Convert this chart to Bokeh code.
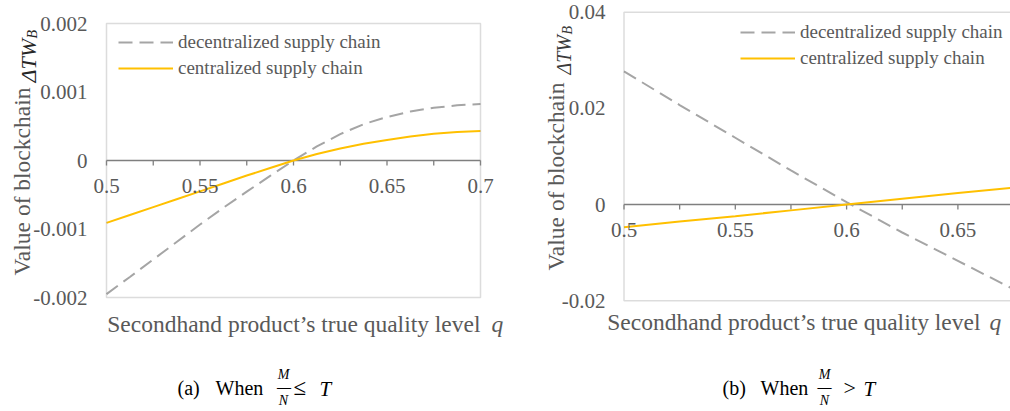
import math
from bokeh.plotting import figure
from bokeh.layouts import row
from bokeh.models import Label, BoxAnnotation, Range1d
from bokeh.embed import file_html
from bokeh.resources import INLINE

# ---------------- data ----------------
q_a = [0.5, 0.5125, 0.525, 0.5375, 0.55, 0.5625, 0.575, 0.5875, 0.6,
       0.6125, 0.625, 0.6375, 0.65, 0.6625, 0.675, 0.6875, 0.7]
dec_a = [-0.00195, -0.00170, -0.001445, -0.00119, -0.000935, -0.00069, -0.000455, -0.000225, 0.0,
         0.000205, 0.000385, 0.00053, 0.000635, 0.000715, 0.00077, 0.000805, 0.000825]
cen_a = [-0.00091, -0.000795, -0.00068, -0.000565, -0.00045, -0.000335, -0.00022, -0.00011, 0.0,
         0.000095, 0.000175, 0.000245, 0.0003, 0.00035, 0.00039, 0.000415, 0.00043]

q_b = [0.5, 0.525, 0.55, 0.575, 0.6, 0.625, 0.65, 0.675]
dec_b = [0.0277, 0.0207, 0.0139, 0.0071, 0.0005, -0.0058, -0.0117, -0.0176]
cen_b = [-0.0047, -0.0035, -0.0024, -0.0012, 0.0, 0.0012, 0.0024, 0.0035]

x_major_a = [0.5, 0.55, 0.6, 0.65, 0.7]
x_minor_a = [0.525, 0.575, 0.625, 0.675]
x_labels_a = ["0.5", "0.55", "0.6", "0.65", "0.7"]
y_ticks_a = [-0.002, -0.001, 0, 0.001, 0.002]
y_labels_a = ["-0.002", "-0.001", "0", "0.001", "0.002"]

x_major_b = [0.5, 0.55, 0.6, 0.65]
x_minor_b = [0.525, 0.575, 0.625, 0.675]
x_labels_b = ["0.5", "0.55", "0.6", "0.65"]
y_ticks_b = [-0.02, 0, 0.02, 0.04]
y_labels_b = ["-0.02", "0", "0.02", "0.04"]

series_names = ["decentralized supply chain", "centralized supply chain"]
x_title = "Secondhand product\u2019s true quality level"
y_title = "Value of blockchain"

FONT = "Liberation Serif"
GREY_TXT = "#595959"
FRAME = "#8a8a8a"
ZERO = "#7f7f7f"
DASH_C = "#A5A5A5"
GOLD = "#FFC000"

H = 411
W_A, W_B = 515, 495


def make_fig(w, xr, yr):
    p = figure(width=w, height=H, x_range=Range1d(*xr), y_range=Range1d(*yr),
               output_backend="svg", toolbar_location=None,
               x_axis_location=None, y_axis_location=None,
               min_border=0, min_border_left=0, min_border_right=0,
               min_border_top=0, min_border_bottom=0)
    p.xgrid.visible = False
    p.ygrid.visible = False
    p.outline_line_color = None
    p.background_fill_color = "white"
    p.border_fill_color = "white"
    return p


def lab(p, text, px, py, size, color=GREY_TXT, style="normal", align="left",
        baseline="middle", angle=0.0, xu="screen", yu="screen"):
    y = py if yu == "data" else H - py
    p.add_layout(Label(x=px, y=y, x_units=xu, y_units=yu, text=text,
                       text_font=FONT, text_font_size=size, text_color=color,
                       text_font_style=style, text_align=align,
                       text_baseline=baseline, angle=angle))


def axes(p, ky, x_major, x_minor, x_labels, y_ticks, y_labels, x_end,
         zero_px, ylab_px):
    tick_len = 5.0 / ky
    ticks = x_major + x_minor
    p.segment(x0=ticks, y0=[0] * len(ticks), x1=ticks, y1=[-tick_len] * len(ticks),
              line_color=ZERO, line_width=1.3)
    p.segment(x0=[x_major[0]], y0=[0], x1=[x_end], y1=[0], line_color=ZERO, line_width=1.5)
    for t, s in zip(x_major, x_labels):
        lab(p, s, t, zero_px + 25, "21px", align="center", xu="data")
    for t, s in zip(y_ticks, y_labels):
        lab(p, s, ylab_px, t, "21px", align="right", yu="data")


def style_legend(p, loc):
    lg = p.legend[0]
    lg.location = loc
    lg.margin = 0
    lg.padding = 0
    lg.spacing = 4
    lg.glyph_width = 55
    lg.glyph_height = 20
    lg.label_height = 20
    lg.label_standoff = 5
    lg.label_text_font = FONT
    lg.label_text_font_size = "19px"
    lg.label_text_color = GREY_TXT
    lg.border_line_color = None
    lg.background_fill_alpha = 0


# ---------------- panel (a) ----------------
# pixel layout of the plotting box: x 106..480, y 23..297
kxA = (480 - 106) / (x_major_a[-1] - x_major_a[0])
kyA = (297 - 23) / (y_ticks_a[-1] - y_ticks_a[0])
xrA = (x_major_a[0] - 106 / kxA, x_major_a[0] + (W_A - 106) / kxA)
yrA = (y_ticks_a[-1] - (H - 23) / kyA, y_ticks_a[-1] + 23 / kyA)
pa = make_fig(W_A, xrA, yrA)
pa.add_layout(BoxAnnotation(left=x_major_a[0], right=x_major_a[-1],
                            bottom=y_ticks_a[0], top=y_ticks_a[-1],
                            fill_alpha=0, line_color=FRAME, line_width=1.5))
axes(pa, kyA, x_major_a, x_minor_a, x_labels_a, y_ticks_a, y_labels_a,
     x_major_a[-1], 160, 87)
pa.line(q_a, dec_a, line_color=DASH_C, line_width=2, line_dash="14 7",
        legend_label=series_names[0])
pa.line(q_a, cen_a, line_color=GOLD, line_width=2, legend_label=series_names[1])
style_legend(pa, (118, 332))
lab(pa, x_title, 480, 323, "23.5px", align="right")
lab(pa, "q", 491, 323, "23.5px", style="italic")
lab(pa, y_title, 21, 275, "23.5px", angle=math.pi / 2)
lab(pa, "\u0394TW", 27.5, 82, "22px", color="#262626", style="italic", angle=math.pi / 2)
lab(pa, "B", 32, 38, "14px", color="#262626", style="italic", angle=math.pi / 2)
lab(pa, "(a)", 177, 387, "20px", color="#000000")
lab(pa, "When", 215, 387, "20px", color="#000000")
lab(pa, "M", 283, 374, "14px", color="#000000", style="italic", align="center")
lab(pa, "\u2014", 283.5, 387, "14px", color="#000000", style="bold", align="center")
lab(pa, "N", 283, 400, "14px", color="#000000", style="italic", align="center")
lab(pa, "\u2264", 293, 387, "23px", color="#000000")
lab(pa, "T", 319, 388, "21px", color="#000000", style="italic")

# ---------------- panel (b) ----------------
# pixel layout (figure coords): box left 108.5, top 11.7, bottom 300.3
kxB = 111.3 / (x_major_b[1] - x_major_b[0])
kyB = (300.3 - 11.7) / (y_ticks_b[-1] - y_ticks_b[0])
xrB = (x_major_b[0] - 108.5 / kxB, x_major_b[0] + (W_B - 108.5) / kxB)
yrB = (y_ticks_b[-1] - (H - 11.7) / kyB, y_ticks_b[-1] + 11.7 / kyB)
pb = make_fig(W_B, xrB, yrB)
pb.add_layout(BoxAnnotation(left=x_major_b[0], right=xrB[1] + 0.01,
                            bottom=y_ticks_b[0], top=y_ticks_b[-1],
                            fill_alpha=0, line_color=FRAME, line_width=1.5))
axes(pb, kyB, x_major_b, x_minor_b, x_labels_b, y_ticks_b, y_labels_b,
     xrB[1], 204, 90)
pb.line(q_b, dec_b, line_color=DASH_C, line_width=2, line_dash="14 7",
        legend_label=series_names[0])
pb.line(q_b, cen_b, line_color=GOLD, line_width=2, legend_label=series_names[1])
style_legend(pb, (225, 342))
lab(pb, x_title, 465, 321, "23.5px", align="right")
lab(pb, "q", 474, 321, "23.5px", style="italic")
lab(pb, y_title, 40, 270, "23.5px", angle=math.pi / 2)
lab(pb, "\u0394TW", 48, 74, "20px", color="#3a3a3a", style="italic", angle=math.pi / 2)
lab(pb, "B", 52, 34, "14px", color="#3a3a3a", style="italic", angle=math.pi / 2)
lab(pb, "(b)", 207, 387, "20px", color="#000000")
lab(pb, "When", 245, 387, "20px", color="#000000")
lab(pb, "M", 309, 374, "14px", color="#000000", style="italic", align="center")
lab(pb, "\u2014", 309, 387, "14px", color="#000000", style="bold", align="center")
lab(pb, "N", 309, 400, "14px", color="#000000", style="italic", align="center")
lab(pb, ">", 328, 387, "22px", color="#000000")
lab(pb, "T", 348, 388, "21px", color="#000000", style="italic")

layout = row(pa, pb, spacing=0)
open("out.html", "w").write(file_html(layout, INLINE))
